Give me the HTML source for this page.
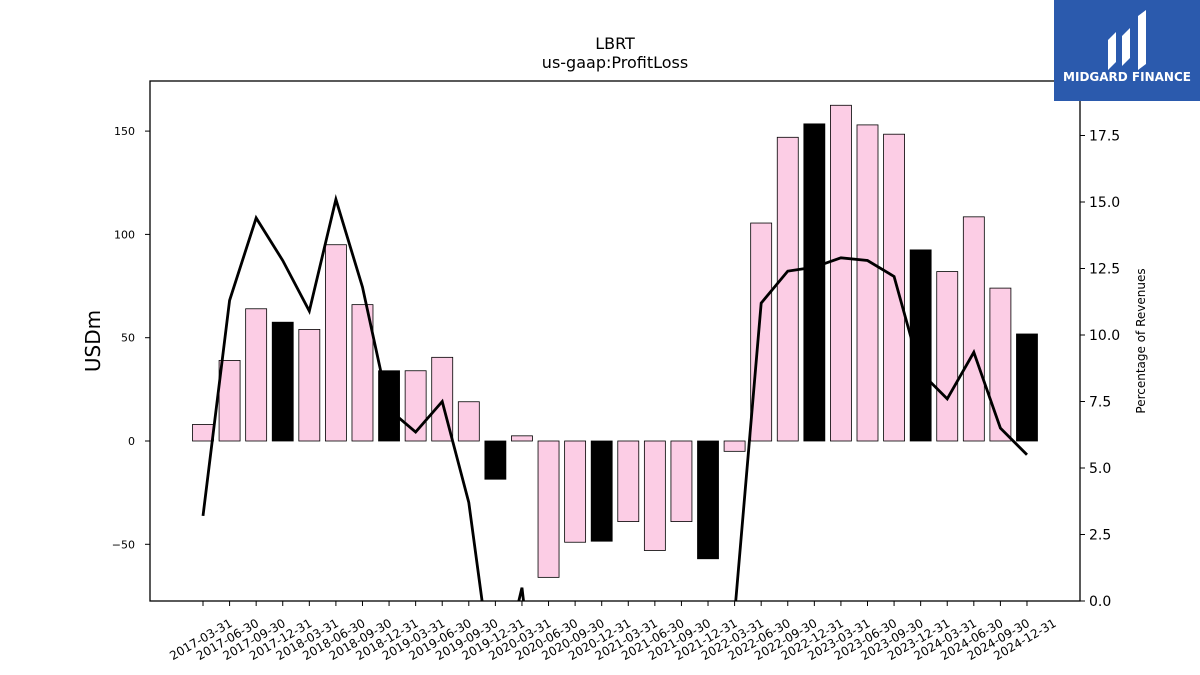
<!DOCTYPE html>
<html><head><meta charset="utf-8"><style>
html,body{margin:0;background:#fff;font-family:"Liberation Sans","DejaVu Sans",sans-serif;overflow:hidden;width:1200px;height:675px}
svg{display:block}
svg text{font-family:"DejaVu Sans","Liberation Sans",sans-serif}
</style></head><body>
<svg id="c" width="1200" height="675" xmlns="http://www.w3.org/2000/svg">
<defs><clipPath id="pa"><rect x="150" y="81" width="930" height="520"/></clipPath></defs>
<text x="615" y="49" font-size="16" text-anchor="middle">LBRT</text>
<text x="615" y="68" font-size="16" text-anchor="middle">us-gaap:ProfitLoss</text>
<g id="bars"></g>
<g id="line" clip-path="url(#pa)"></g>
<rect x="150" y="81" width="930" height="520" fill="none" stroke="#000" stroke-width="1.3"/>
<g id="axes"></g>
<text transform="translate(100,341) rotate(-90)" font-size="20" text-anchor="middle">USDm</text>
<text transform="translate(1145,341) rotate(-90)" font-size="12" text-anchor="middle">Percentage of Revenues</text>
<g>
<rect x="1054" y="0" width="146" height="101" fill="#2b5aad"/>
<path d="M1108 70 L1108 40 L1116 32 L1116 62 Z M1122 66 L1122 36 L1130 28 L1130 58 Z M1138 70 L1138 16 L1146 10 L1146 64 Z" fill="#fff"/>
<text x="1127" y="81" font-size="12" font-weight="bold" fill="#fff" text-anchor="middle">MIDGARD FINANCE</text>
</g>
</svg>
<script>
const categories=["2017-03-31","2017-06-30","2017-09-30","2017-12-31","2018-03-31","2018-06-30","2018-09-30","2018-12-31","2019-03-31","2019-06-30","2019-09-30","2019-12-31","2020-03-31","2020-06-30","2020-09-30","2020-12-31","2021-03-31","2021-06-30","2021-09-30","2021-12-31","2022-03-31","2022-06-30","2022-09-30","2022-12-31","2023-03-31","2023-06-30","2023-09-30","2023-12-31","2024-03-31","2024-06-30","2024-09-30","2024-12-31"];
const profitLoss=[8,39,64,57.5,54,95,66,34,34,40.5,19,-18.5,2.5,-66,-49,-48.5,-39,-53,-39,-57,-5,105.5,147,153.5,162.5,153,148.5,92.5,82,108.5,74,51.8];
const pctRevenue=[3.2,11.3,14.4,12.8,10.9,15.1,11.8,7.2,6.35,7.5,3.7,-3.7,0.5,-8,-6,-6,-5,-7,-4,-3,-0.5,11.2,12.4,12.55,12.9,12.8,12.2,8.6,7.6,9.35,6.5,5.5];
const leftTicks=[-50,0,50,100,150];
const rightTicks=[0,2.5,5,7.5,10,12.5,15,17.5];
const NS="http://www.w3.org/2000/svg";
const yL=v=>441-v*2.066;
const yR=v=>601-v*26.6;
const xS=i=>203+i*26.58;
function mk(t,a,p){const e=document.createElementNS(NS,t);for(const k in a)e.setAttribute(k,a[k]);p.appendChild(e);return e;}
const bars=document.getElementById('bars'),line=document.getElementById('line'),axes=document.getElementById('axes');
profitLoss.forEach((v,i)=>{
 const y0=yL(0),y1=yL(v);
 const r=mk('rect',{x:xS(i)-10.5,y:Math.min(y0,y1),width:21,height:Math.abs(y1-y0),fill:(i%4==3)?'#000':'#fccde5',stroke:'#000','stroke-width':0.8},bars);
 
 
});
const pl=mk('polyline',{points:pctRevenue.map((v,i)=>xS(i)+','+yR(v)).join(' '),fill:'none',stroke:'#000','stroke-width':2.8},line);


leftTicks.forEach(v=>{
 mk('line',{x1:145,x2:150,y1:yL(v),y2:yL(v),stroke:'#000'},axes);
 const t=mk('text',{x:135,y:yL(v)+4,'font-size':11,'text-anchor':'end'},axes);t.textContent=v==-50?'\u221250':v;
 
 
});
rightTicks.forEach(v=>{
 mk('line',{x1:1080,x2:1085,y1:yR(v),y2:yR(v),stroke:'#000'},axes);
 const t=mk('text',{x:1089,y:yR(v)+5,'font-size':14},axes);t.textContent=v.toFixed(1);
 
 
});
categories.forEach((c,i)=>{
 const x=xS(i);
 mk('line',{x1:x,x2:x,y1:601,y2:606,stroke:'#000'},axes);
 const t=mk('text',{transform:`translate(${x},${643}) rotate(-30)`,'font-size':12,'text-anchor':'middle'},axes);t.textContent=c;
 
 
});
</script>
</body></html>
